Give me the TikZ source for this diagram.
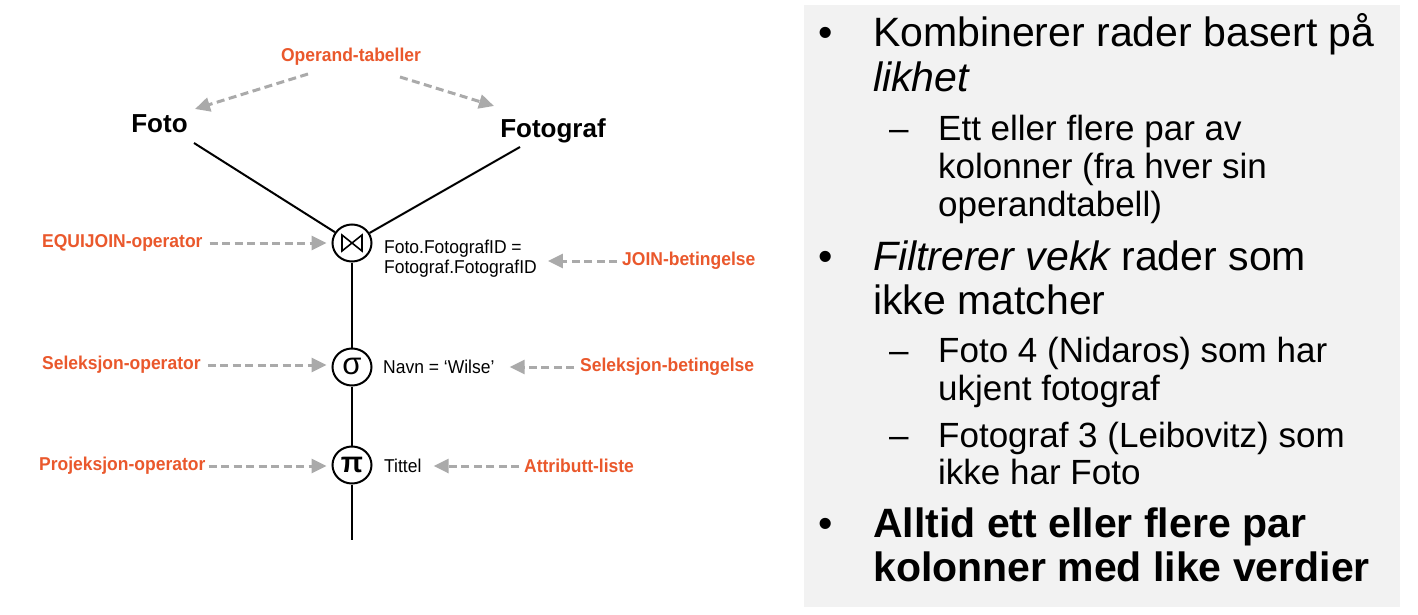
\documentclass[tikz,border=0pt]{standalone}
\usepackage{fontspec}
\setmainfont{Liberation Sans}
\newfontfamily\narrowsans[FakeStretch=0.94]{Liberation Sans}
\usetikzlibrary{arrows.meta,shapes.geometric}
\definecolor{labelorange}{RGB}{234,88,44}
\definecolor{hintgray}{RGB}{170,170,170}
\definecolor{panelgray}{RGB}{242,242,242}

\begin{document}
\begin{tikzpicture}[x=1pt,y=-1pt,
  tbl/.style={font=\fontsize{26}{30}\selectfont\bfseries, inner sep=0pt},
  lbl/.style={font=\narrowsans\fontsize{18.6}{21}\selectfont\bfseries, text=labelorange, inner sep=0pt},
  cond/.style={font=\narrowsans\fontsize{18.6}{20}\selectfont, inner sep=0pt, anchor=west, align=left},
  opnode/.style={draw, ellipse, line width=2pt, minimum width=39pt, minimum height=37pt, inner sep=0pt},
  leg/.style={line width=2pt},
  hint/.style={draw=hintgray, line width=3pt, dash pattern=on 8pt off 4.5pt,
    -{Triangle[length=15pt,width=14pt,fill=hintgray]}},
  mainline/.style={font=\fontsize{41}{45}\selectfont, inner sep=0pt, anchor=base west},
  subline/.style={font=\fontsize{35}{38}\selectfont, inner sep=0pt, anchor=base west},
]
% canvas
\fill[white] (0,0) rectangle (1418,615);
\useasboundingbox (0,0) rectangle (1418,615);

% ---------- operator tree ----------
\node[tbl, anchor=base] (foto) at (159.5,132) {Foto};
\node[tbl, anchor=base] (fotograf) at (553,137) {Fotograf};
\node[lbl] (operand) at (351,57) {Operand-tabeller};

\node[opnode] (join) at (352,243) {};
\draw[line width=1.6pt, line join=miter]
  ([shift={(-10,-8)}]join.center) -- ([shift={(-10,8)}]join.center)
  -- ([shift={(10,-8)}]join.center) -- ([shift={(10,8)}]join.center) -- cycle;
\node[opnode, font=\fontsize{31}{31}\selectfont] (sel) at (352,367) {\raisebox{1pt}{σ}};
\node[opnode, font=\fontsize{29}{29}\selectfont\bfseries] (proj) at (352,465) {π};
\coordinate (treeEnd) at (352,540);

\coordinate (fotoLeg) at (194,143);
\coordinate (fotografLeg) at (520,147);
\draw[leg] (fotoLeg) -- (join);
\draw[leg] (fotografLeg) -- (join);
\draw[leg] (join) -- (sel);
\draw[leg] (sel) -- (proj);
\draw[leg] (proj) -- (treeEnd);

% conditions and attribute list
\node[cond] (joincond) at (384,259) {Foto.FotografID =\\Fotograf.FotografID};
\node[cond] (selcond) at (383,367) {Navn = ‘Wilse’};
\node[cond] (attrs) at (384,466) {Tittel};

% annotations
\node[lbl, anchor=west] (eqlbl) at (42,243) {EQUIJOIN-operator};
\node[lbl, anchor=west] (sellbl) at (42,365) {Seleksjon-operator};
\node[lbl, anchor=west] (projlbl) at (39,466) {Projeksjon-operator};
\node[lbl, anchor=west] (jblbl) at (622,261) {JOIN-betingelse};
\node[lbl, anchor=west] (sblbl) at (580,367) {Seleksjon-betingelse};
\node[lbl, anchor=west] (attrlbl) at (524,466) {Attributt-liste};

\coordinate (opL) at (308,74);
\coordinate (opR) at (400,77);
\coordinate (fotoTip) at (195,109);
\coordinate (fotografTip) at (494,106);
\draw[hint] (opL) -- (fotoTip);
\draw[hint] (opR) -- (fotografTip);

\draw[hint, shorten <=7pt, shorten >=5pt] (eqlbl.east) -- (eqlbl.east -| join.west);
\draw[hint, shorten <=7pt, shorten >=5pt] (sellbl.east) -- (sellbl.east -| sel.west);
\draw[hint, shorten <=3pt, shorten >=5pt] (projlbl.east) -- (projlbl.east -| proj.west);
\draw[hint, shorten <=5pt, shorten >=11pt] (jblbl.west) -- (jblbl.west -| joincond.east);
\draw[hint, shorten <=6pt, shorten >=15pt] (sblbl.west) -- (sblbl.west -| selcond.east);
\draw[hint, shorten <=5pt, shorten >=12pt] (attrlbl.west) -- (attrlbl.west -| attrs.east);

% ---------- summary panel ----------
\fill[panelgray] (804,5) rectangle (1400,607);

\node[mainline, anchor=base] (b1) at (826,47) {•};
\node[mainline] (t1a) at (873,47) {Kombinerer rader basert på};
\node[mainline] (t1b) at (873,92) {\itshape likhet};
\node[subline] (d1) at (889,140) {–};
\node[subline] (s1a) at (938,140) {Ett eller flere par av};
\node[subline] (s1b) at (938,178) {kolonner (fra hver sin};
\node[subline] (s1c) at (938,216) {operandtabell)};

\node[mainline, anchor=base] (b2) at (826,270) {•};
\node[mainline] (t2a) at (873,270) {\itshape Filtrerer vekk\upshape{} rader som};
\node[mainline] (t2b) at (873,314) {ikke matcher};
\node[subline] (d2) at (889,362) {–};
\node[subline] (s2a) at (938,362) {Foto 4 (Nidaros) som har};
\node[subline] (s2b) at (938,400) {ukjent fotograf};
\node[subline] (d3) at (889,447) {–};
\node[subline] (s3a) at (938,447) {Fotograf 3 (Leibovitz) som};
\node[subline] (s3b) at (938,484) {ikke har Foto};

\node[mainline, anchor=base] (b3) at (826,537) {•};
\node[mainline] (t3a) at (873,537) {\bfseries Alltid ett eller flere par};
\node[mainline] (t3b) at (873,581) {\bfseries kolonner med like verdier};
\end{tikzpicture}
\end{document}
